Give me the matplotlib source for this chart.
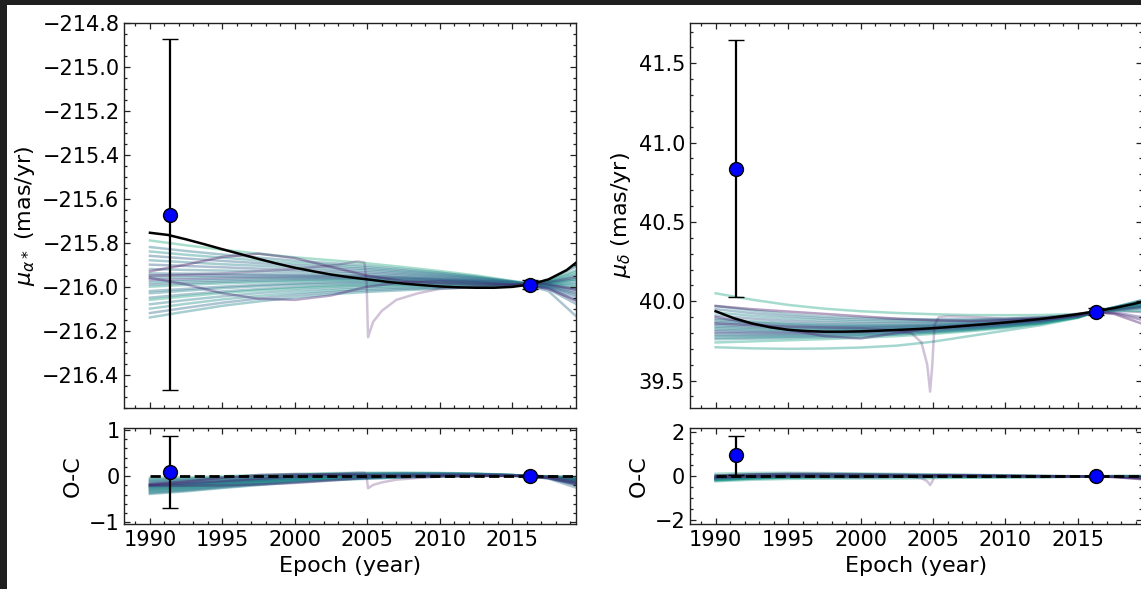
import numpy as np
import matplotlib
matplotlib.use("Agg")
import matplotlib.pyplot as plt
from matplotlib.ticker import MultipleLocator
from matplotlib.patches import Rectangle

# ---------------------------------------------------------------------------
# Best-fit orbit: proper motions on a 1.25-year epoch grid
fit_epochs = [1990.00, 1991.25, 1992.50, 1993.75, 1995.00, 1996.25, 1997.50,
              1998.75, 2000.00, 2001.25, 2002.50, 2003.75, 2005.00, 2006.25,
              2007.50, 2008.75, 2010.00, 2011.25, 2012.50, 2013.75, 2015.00,
              2016.25, 2017.50, 2018.75, 2020.00]
fit_pmra = [-215.755, -215.765, -215.785, -215.807, -215.830, -215.852, -215.874,
            -215.895, -215.914, -215.930, -215.945, -215.957, -215.967, -215.977,
            -215.986, -215.993, -215.999, -216.003, -216.005, -216.005, -216.001,
            -215.990, -215.967, -215.925, -215.860]
fit_pmdec = [39.937, 39.893, 39.860, 39.836, 39.820, 39.812, 39.808,
             39.808, 39.810, 39.814, 39.819, 39.824, 39.830, 39.838,
             39.847, 39.856, 39.866, 39.877, 39.889, 39.903, 39.919,
             39.937, 39.957, 39.981, 40.008]

# Posterior draws, sampled at a subset of the fit grid
draw_index = [0, 2, 4, 6, 8, 10, 12, 14, 16, 18, 20, 21, 22, 24]

pmra_draws = [
    [-215.790, -215.812, -215.832, -215.850, -215.867, -215.880, -215.894, -215.911, -215.929, -215.949, -215.974, -215.984, -215.975, -215.920],
    [-215.820, -215.838, -215.854, -215.868, -215.882, -215.893, -215.905, -215.920, -215.936, -215.954, -215.976, -215.988, -215.980, -215.940],
    [-215.840, -215.855, -215.868, -215.881, -215.893, -215.902, -215.913, -215.926, -215.940, -215.957, -215.977, -215.990, -215.985, -215.960],
    [-215.860, -215.872, -215.883, -215.893, -215.903, -215.911, -215.920, -215.932, -215.945, -215.960, -215.978, -215.986, -215.970, -215.890],
    [-215.880, -215.889, -215.898, -215.905, -215.913, -215.920, -215.927, -215.938, -215.950, -215.963, -215.979, -215.990, -215.990, -215.990],
    [-215.900, -215.906, -215.912, -215.918, -215.924, -215.929, -215.935, -215.944, -215.954, -215.966, -215.980, -215.992, -215.995, -216.020],
    [-215.920, -215.924, -215.927, -215.930, -215.934, -215.937, -215.942, -215.950, -215.959, -215.969, -215.982, -215.988, -215.980, -215.950],
    [-215.940, -215.941, -215.941, -215.943, -215.945, -215.946, -215.950, -215.956, -215.963, -215.972, -215.983, -215.993, -215.998, -216.030],
    [-215.950, -215.949, -215.949, -215.949, -215.950, -215.951, -215.953, -215.959, -215.966, -215.973, -215.983, -215.995, -216.005, -216.080],
    [-215.960, -215.958, -215.956, -215.955, -215.955, -215.955, -215.957, -215.962, -215.968, -215.975, -215.984, -215.990, -215.985, -215.970],
    [-215.970, -215.967, -215.963, -215.961, -215.960, -215.959, -215.961, -215.965, -215.970, -215.977, -215.985, -215.993, -216.000, -216.040],
    [-215.980, -215.975, -215.971, -215.967, -215.965, -215.964, -215.964, -215.968, -215.973, -215.978, -215.985, -215.987, -215.975, -215.910],
    [-215.990, -215.984, -215.978, -215.974, -215.971, -215.968, -215.968, -215.971, -215.975, -215.980, -215.986, -215.996, -216.010, -216.100],
    [-216.000, -215.992, -215.985, -215.980, -215.976, -215.973, -215.972, -215.974, -215.977, -215.981, -215.986, -215.990, -215.990, -216.000],
    [-216.020, -216.010, -216.000, -215.992, -215.986, -215.981, -215.979, -215.980, -215.982, -215.984, -215.988, -215.998, -216.020, -216.170],
    [-216.030, -216.018, -216.007, -215.998, -215.991, -215.986, -215.983, -215.983, -215.984, -215.986, -215.988, -215.988, -215.980, -215.930],
    [-216.050, -216.035, -216.022, -216.011, -216.002, -215.995, -215.990, -215.989, -215.989, -215.989, -215.989, -215.992, -215.995, -216.010],
    [-216.060, -216.044, -216.029, -216.017, -216.007, -215.999, -215.994, -215.992, -215.991, -215.990, -215.990, -215.986, -215.970, -215.880],
    [-216.080, -216.061, -216.044, -216.029, -216.017, -216.008, -216.001, -215.998, -215.996, -215.993, -215.991, -215.993, -216.000, -216.050],
    [-216.100, -216.078, -216.058, -216.042, -216.028, -216.017, -216.009, -216.004, -216.000, -215.996, -215.992, -215.990, -215.985, -215.960],
    [-216.120, -216.096, -216.073, -216.054, -216.038, -216.025, -216.016, -216.010, -216.005, -215.999, -215.994, -215.994, -216.005, -216.060],
    [-216.140, -216.113, -216.087, -216.067, -216.049, -216.034, -216.024, -216.016, -216.009, -216.002, -215.995, -215.990, -215.990, -215.980],
    [-215.930, -215.900, -215.865, -215.850, -215.870, -215.910, -215.950, -215.975, -215.985, -215.990, -215.990, -215.985, -215.990, -216.020],
    [-215.960, -215.990, -216.030, -216.055, -216.060, -216.040, -216.000, -215.980, -215.975, -215.980, -215.990, -215.995, -216.010, -216.080],
]
pmra_draw_mass = [0.62, 0.40, 0.50, 0.33, 0.45, 0.30, 0.42, 0.38, 0.25, 0.42, 0.18, 0.48,
                  0.33, 0.55, 0.36, 0.44, 0.38, 0.58, 0.42, 0.50, 0.34, 0.46, 0.05, 0.10]

pmdec_draws = [
    [40.050, 40.010, 39.977, 39.953, 39.937, 39.926, 39.918, 39.913, 39.912, 39.913, 39.919, 39.935, 39.955, 39.990],
    [39.970, 39.942, 39.919, 39.903, 39.894, 39.888, 39.886, 39.887, 39.891, 39.899, 39.913, 39.935, 39.960, 40.010],
    [39.950, 39.925, 39.905, 39.891, 39.883, 39.879, 39.878, 39.880, 39.886, 39.895, 39.912, 39.933, 39.950, 39.980],
    [39.930, 39.908, 39.891, 39.879, 39.872, 39.870, 39.870, 39.873, 39.881, 39.891, 39.911, 39.936, 39.958, 40.000],
    [39.910, 39.891, 39.876, 39.866, 39.861, 39.860, 39.862, 39.867, 39.876, 39.888, 39.909, 39.932, 39.945, 39.960],
    [39.890, 39.874, 39.862, 39.854, 39.851, 39.851, 39.854, 39.860, 39.870, 39.884, 39.908, 39.938, 39.962, 40.020],
    [39.880, 39.866, 39.855, 39.848, 39.845, 39.846, 39.850, 39.857, 39.868, 39.882, 39.907, 39.935, 39.955, 39.990],
    [39.870, 39.857, 39.847, 39.841, 39.840, 39.841, 39.846, 39.854, 39.865, 39.881, 39.906, 39.933, 39.950, 39.970],
    [39.860, 39.849, 39.840, 39.835, 39.834, 39.837, 39.842, 39.850, 39.863, 39.879, 39.906, 39.930, 39.940, 39.930],
    [39.850, 39.840, 39.833, 39.829, 39.829, 39.832, 39.838, 39.847, 39.860, 39.877, 39.905, 39.936, 39.960, 40.010],
    [39.840, 39.832, 39.826, 39.823, 39.824, 39.827, 39.834, 39.844, 39.857, 39.875, 39.904, 39.935, 39.955, 39.990],
    [39.830, 39.823, 39.819, 39.817, 39.818, 39.823, 39.830, 39.840, 39.855, 39.873, 39.904, 39.934, 39.948, 39.970],
    [39.820, 39.814, 39.811, 39.810, 39.813, 39.818, 39.826, 39.837, 39.852, 39.872, 39.903, 39.937, 39.962, 40.020],
    [39.810, 39.806, 39.804, 39.804, 39.807, 39.813, 39.822, 39.834, 39.850, 39.870, 39.902, 39.935, 39.950, 39.980],
    [39.800, 39.797, 39.797, 39.798, 39.802, 39.809, 39.818, 39.831, 39.847, 39.868, 39.902, 39.928, 39.930, 39.890],
    [39.790, 39.789, 39.790, 39.792, 39.797, 39.804, 39.814, 39.827, 39.844, 39.866, 39.901, 39.936, 39.958, 40.000],
    [39.780, 39.780, 39.783, 39.786, 39.791, 39.799, 39.810, 39.824, 39.842, 39.864, 39.900, 39.933, 39.945, 39.960],
    [39.770, 39.772, 39.775, 39.779, 39.786, 39.794, 39.806, 39.821, 39.839, 39.863, 39.899, 39.936, 39.960, 40.010],
    [39.760, 39.764, 39.768, 39.773, 39.780, 39.790, 39.802, 39.817, 39.837, 39.861, 39.899, 39.934, 39.952, 39.980],
    [39.740, 39.747, 39.754, 39.761, 39.770, 39.780, 39.794, 39.811, 39.831, 39.857, 39.897, 39.932, 39.940, 39.940],
    [39.710, 39.703, 39.700, 39.702, 39.708, 39.720, 39.745, 39.780, 39.815, 39.850, 39.895, 39.934, 39.955, 39.990],
    [39.970, 39.950, 39.935, 39.920, 39.905, 39.890, 39.880, 39.875, 39.880, 39.890, 39.910, 39.930, 39.920, 39.840],
    [39.900, 39.860, 39.820, 39.780, 39.765, 39.800, 39.830, 39.850, 39.865, 39.880, 39.905, 39.930, 39.925, 39.870],
]
pmdec_draw_mass = [0.60, 0.42, 0.35, 0.48, 0.30, 0.45, 0.38, 0.44, 0.22, 0.42, 0.35,
                   0.48, 0.38, 0.30, 0.18, 0.44, 0.34, 0.50, 0.42, 0.58, 0.55, 0.05, 0.10]

# One eccentric draw with a periastron passage near 2005
spike_epochs_ra = [1990, 1995, 2000, 2003, 2004.3, 2004.8, 2004.95, 2005.05, 2005.4,
                   2006, 2007, 2008.5, 2010, 2013, 2016.25, 2018, 2020]
spike_pmra = [-215.950, -215.940, -215.920, -215.900, -215.885, -215.890, -215.980, -216.230,
              -216.160, -216.110, -216.060, -216.030, -216.010, -216.000, -215.990, -215.975, -215.950]
spike_pmra_oc = [-0.195, -0.110, -0.006, 0.050, 0.076, 0.075, -0.013, -0.262,
                 -0.190, -0.135, -0.077, -0.038, -0.011, 0.005, 0.000, -0.025, -0.090]
spike_epochs_dec = [1990, 1995, 2000, 2002, 2003.5, 2004.2, 2004.6, 2004.8, 2004.95,
                    2005.1, 2005.4, 2006, 2008, 2010, 2013, 2016.25, 2018, 2020]
spike_pmdec = [39.860, 39.840, 39.830, 39.820, 39.800, 39.740, 39.600, 39.430, 39.600,
               39.850, 39.900, 39.905, 39.900, 39.890, 39.900, 39.935, 39.950, 39.970]
spike_pmdec_oc = [-0.077, 0.020, 0.020, 0.003, -0.023, -0.086, -0.228, -0.399, -0.230,
                  0.019, 0.067, 0.069, 0.049, 0.024, 0.005, -0.002, -0.017, -0.038]

# Hipparcos and Gaia measurements
obs_epochs = [1991.4, 2016.25]
obs_pmra = [-215.672, -215.992]
obs_pmra_err = [0.797, 0.02]
obs_pmra_oc = [0.09, 0.0]
obs_pmra_oc_err = [0.78, 0.02]
obs_pmdec = [40.836, 39.935]
obs_pmdec_err = [0.81, 0.02]
obs_pmdec_oc = [0.95, 0.0]
obs_pmdec_oc_err = [0.88, 0.03]

# ---------------------------------------------------------------------------
W, H = 1141, 589
fig = plt.figure(figsize=(W / 100, H / 100), dpi=100, facecolor="white")

TICK_FS = 15.0
LABEL_FS = 16.0
cmap = plt.get_cmap("viridis")


def px_axes(left, top, right, bottom):
    return fig.add_axes([left / W, 1 - bottom / H, (right - left) / W, (bottom - top) / H])


def style(ax, ymajor, yminor, ylim):
    ax.set_xlim(1988.23, 2019.40)
    ax.set_ylim(*ylim)
    ax.xaxis.set_major_locator(MultipleLocator(5))
    ax.xaxis.set_minor_locator(MultipleLocator(1))
    ax.yaxis.set_major_locator(MultipleLocator(ymajor))
    ax.yaxis.set_minor_locator(MultipleLocator(yminor))
    ax.tick_params(which="both", direction="in", top=True, right=True,
                   labelsize=TICK_FS, width=0.9, color="#222222")
    ax.tick_params(which="major", length=4.6)
    ax.tick_params(which="minor", length=2.4)
    ax.tick_params(axis="x", pad=4.5)
    for s in ax.spines.values():
        s.set_linewidth(1.0)
        s.set_color("#222222")


def panel(ax_main, ax_oc, fit, draws, mass, sp_t, sp_v, sp_oc,
          obs, obs_err, oc, oc_err, ylabel):
    t_fit = np.array(fit_epochs)
    fit = np.array(fit)
    t_draw = t_fit[draw_index]
    for row, m in zip(draws, mass):
        row = np.array(row)
        col = cmap(m)
        ax_main.plot(t_draw, row, color=col, alpha=0.4, lw=1.8, zorder=1)
        ax_oc.plot(t_draw, row - fit[draw_index], color=col, alpha=0.4, lw=1.8, zorder=1)
    ax_main.plot(sp_t, sp_v, color=cmap(0.05), alpha=0.25, lw=1.8, zorder=1)
    ax_oc.plot(sp_t, sp_oc, color=cmap(0.05), alpha=0.25, lw=1.8, zorder=1)

    ax_main.plot(t_fit, fit, color="black", lw=1.8, zorder=3)
    ax_oc.plot(t_fit, fit - fit, color="black", lw=2.0, ls="--", zorder=3)

    ekw = dict(fmt="o", color="black", mfc="blue", mec="black", ms=10, mew=1.0,
               elinewidth=1.6, capsize=6, capthick=1.6, zorder=5)
    ax_main.errorbar(obs_epochs, obs, yerr=obs_err, **ekw)
    ax_oc.errorbar(obs_epochs, oc, yerr=oc_err, **ekw)

    ax_main.tick_params(labelbottom=False)
    ax_main.set_ylabel(ylabel, fontsize=LABEL_FS)
    ax_oc.set_ylabel("O-C", fontsize=LABEL_FS)
    ax_oc.set_xlabel("Epoch (year)", fontsize=LABEL_FS)


ax1 = px_axes(124.3, 22.7, 576.0, 408.3)
ax1o = px_axes(124.3, 428.3, 576.0, 524.0)
ax2 = px_axes(690.0, 22.7, 1141.7, 408.3)
ax2o = px_axes(690.0, 428.3, 1141.7, 524.0)

style(ax1, 0.2, 0.05, (-216.553, -214.80))
style(ax1o, 1, 0.2, (-1.035, 1.035))
style(ax2, 0.5, 0.1, (39.325, 41.756))
style(ax2o, 2, 0.5, (-2.17, 2.18))

panel(ax1, ax1o, fit_pmra, pmra_draws, pmra_draw_mass, spike_epochs_ra, spike_pmra,
      spike_pmra_oc, obs_pmra, obs_pmra_err, obs_pmra_oc, obs_pmra_oc_err,
      r"$\mu_{\alpha*}$ (mas/yr)")
panel(ax2, ax2o, fit_pmdec, pmdec_draws, pmdec_draw_mass, spike_epochs_dec, spike_pmdec,
      spike_pmdec_oc, obs_pmdec, obs_pmdec_err, obs_pmdec_oc, obs_pmdec_oc_err,
      r"$\mu_{\delta}$ (mas/yr)")

# dark frame along the top and left edges
fig.add_artist(Rectangle((0, 1 - 5 / H), 1, 5 / H, transform=fig.transFigure,
                         facecolor="#1f1f1f", edgecolor="none", zorder=20))
fig.add_artist(Rectangle((0, 0), 7 / W, 1, transform=fig.transFigure,
                         facecolor="#1f1f1f", edgecolor="none", zorder=20))

fig.savefig("out.png", dpi=100, facecolor="white")
